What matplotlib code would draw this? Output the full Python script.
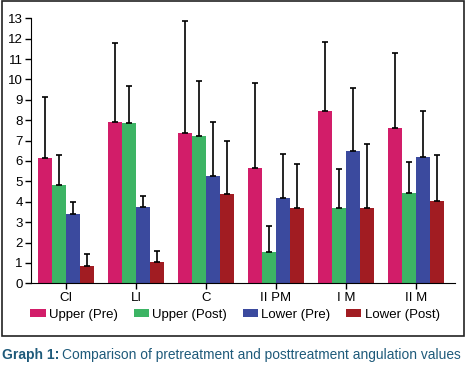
import numpy as np
import matplotlib.pyplot as plt
from matplotlib.patches import Rectangle

# 数据
categories = ['CI', 'LI', 'C', 'II PM', 'I M', 'II M']
series_names = ['Upper (Pre)', 'Upper (Post)', 'Lower (Pre)', 'Lower (Post)']
upper_pre = [6.13, 7.90, 7.36, 5.64, 8.45, 7.62]
upper_post = [4.82, 7.85, 7.23, 1.52, 3.68, 4.43]
lower_pre = [3.40, 3.73, 5.27, 4.17, 6.49, 6.20]
lower_post = [0.85, 1.03, 4.38, 3.68, 3.68, 4.04]
# 误差线（标准差）
upper_pre_sd = [3.03, 3.87, 5.49, 4.17, 3.41, 3.66]
upper_post_sd = [1.48, 1.85, 2.70, 1.31, 1.91, 1.51]
lower_pre_sd = [0.57, 0.57, 2.63, 2.16, 3.08, 2.24]
lower_post_sd = [0.57, 0.57, 2.62, 2.16, 3.14, 2.26]

colors = ['#d21d69', '#3cb464', '#3b4a9e', '#a11c22']

plt.rcParams['font.family'] = ['Liberation Sans', 'DejaVu Sans']

fig = plt.figure(figsize=(4.66, 3.65), dpi=100)
ax = fig.add_axes([31 / 466, 1 - 283.3 / 365, (455 - 31) / 466, (283.3 - 18.3) / 365])

x = np.arange(len(categories))
width = 0.2
values = [upper_pre, upper_post, lower_pre, lower_post]
errs = [upper_pre_sd, upper_post_sd, lower_pre_sd, lower_post_sd]
for i, (vals, sd) in enumerate(zip(values, errs)):
    pos = x + (i - 1.5) * width
    ax.bar(pos, vals, width, color=colors[i], label=series_names[i], zorder=2)
    ax.errorbar(pos, vals, yerr=[np.zeros(len(sd)), sd], fmt='none',
                ecolor='black', elinewidth=1.2, capsize=2.2, capthick=1.2, zorder=3)

ax.set_xlim(-0.5, 5.56)
ax.set_ylim(0, 13)
ax.set_yticks(range(0, 14))
ax.set_xticks(x)
ax.set_xticklabels(categories)
ax.tick_params(axis='both', labelsize=9.5, length=4, width=1, pad=2)
ax.spines['top'].set_visible(False)
ax.spines['right'].set_visible(False)

# 图例
handles, labels = ax.get_legend_handles_labels()
fig.legend(handles, labels, loc='center', bbox_to_anchor=(235 / 466, 1 - 315 / 365), ncol=4,
           frameon=False, fontsize=9.5, handlelength=1.15, handleheight=0.55,
           handletextpad=0.25, columnspacing=1.2)

# 外框
fig.patches.append(Rectangle((1.5 / 466, 1 - 336 / 365), 462 / 466, 335 / 365,
                             transform=fig.transFigure, fill=False,
                             edgecolor='#222222', linewidth=1.2))

# 标题
cap_color = '#1e5a7a'
fig.text(2 / 466, 1 - 355 / 365, 'Graph 1:', fontsize=10, fontweight='bold',
         color=cap_color, va='center', ha='left')
fig.text(62 / 466, 1 - 355 / 365,
         'Comparison of pretreatment and posttreatment angulation values',
         fontsize=9.9, color=cap_color, va='center', ha='left')

fig.savefig('out.png', dpi=100)
